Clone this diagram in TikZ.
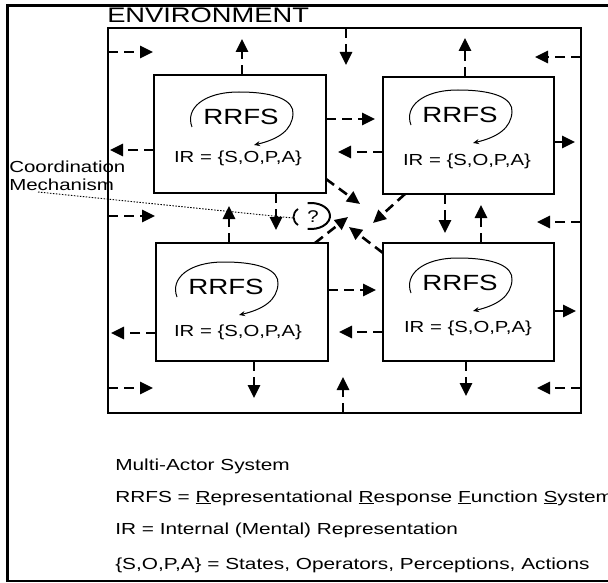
\documentclass[tikz,border=0pt]{standalone}
\usepackage{fontspec}
\setmainfont{Liberation Sans}
\usetikzlibrary{arrows.meta,calc}
\begin{document}
\begin{tikzpicture}[x=1pt,y=-1pt,
  box/.style={draw, line width=1.2pt, anchor=north west, inner sep=0pt, outer sep=0pt},
  envbox/.style={draw, line width=1.3pt, anchor=north west, inner sep=0pt, outer sep=0pt},
  dar/.style={draw, line width=2.6pt, dash pattern=on 10pt off 6pt, -{Triangle[length=13pt,width=12pt]}},
  lbl/.style={inner sep=0pt, anchor=base west, xscale=1.28, font=\fontsize{16}{16}\selectfont},
  leg/.style={lbl, xscale=1.30/1.28},
  rr/.style={inner sep=0pt, xscale=1.26, font=\fontsize{22}{22}\selectfont},
  ir/.style={inner sep=0pt, anchor=base, xscale=1.27, font=\fontsize{16}{16}\selectfont},
  rloop/.pic={\draw[line width=1pt,-{Stealth[length=6pt,width=5pt]}] (-49,10) .. controls (-56,-8) and (-38,-25) .. (-2,-25) .. controls (36,-25) and (53,-16) .. (52,-3) .. controls (51,13) and (38,22) .. (13,28);}
]
\useasboundingbox (0,0) rectangle (608,583);
% page frame
\draw[line width=3pt] (608,5.5) -- (7.5,5.5) -- (7.5,582);
\draw[line width=2pt] (6,580.5) -- (608,580.5);

% environment
\node[envbox, minimum width=473pt, minimum height=385pt] (env) at (108,28) {};
\node[inner sep=0pt, anchor=base west, xscale=1.3, font=\fontsize{21}{21}\selectfont] (envl) at (107,23) {ENVIRONMENT};

% actor boxes
\node[box, minimum width=172pt, minimum height=118pt] (tl) at (154,75) {};
\node[box, minimum width=171pt, minimum height=117pt] (tr) at (383,77) {};
\node[box, minimum width=172pt, minimum height=118pt] (bl) at (156,243) {};
\node[box, minimum width=171pt, minimum height=118pt] (br) at (383,243) {};

% texts in boxes
\node[rr] (rtl) at (241,117) {RRFS};
\node[rr] (rtr) at (460,115) {RRFS};
\node[rr] (rbl) at (226,287) {RRFS};
\node[rr] (rbr) at (460,283) {RRFS};
\pic at (rtl) {rloop};
\pic at (rtr) {rloop};
\pic at (rbl) {rloop};
\pic at (rbr) {rloop};
\node[ir] (itl) at (238,163) {IR = \{S,O,P,A\}};
\node[ir] (itr) at (467,166) {IR = \{S,O,P,A\}};
\node[ir] (ibl) at (238,336) {IR = \{S,O,P,A\}};
\node[ir] (ibr) at (468,332) {IR = \{S,O,P,A\}};

% arrow tips
\coordinate (a1) at (153,52);
\coordinate (a2) at (242,39);
\coordinate (a3) at (346,65);
\coordinate (a4) at (375,119);
\coordinate (a5) at (338,152);
\coordinate (a6) at (110,150);
\coordinate (a7) at (155,216);
\coordinate (a8) at (229,206);
\coordinate (a9) at (276,230);
\coordinate (a10) at (360,204);
\coordinate (a11) at (373,223);
\coordinate (a12) at (348,217);
\coordinate (a13) at (349,227);
\coordinate (a14) at (445,233);
\coordinate (a15) at (481,205);
\coordinate (a16) at (537,222);
\coordinate (a17) at (376,290);
\coordinate (a18) at (339,332);
\coordinate (a19) at (576,311);
\coordinate (a20) at (537,388);
\coordinate (a21) at (466,396);
\coordinate (a22) at (343,377);
\coordinate (a23) at (254,398);
\coordinate (a24) at (153,388);
\coordinate (a25) at (111,333);
\coordinate (a26) at (465,38);
\coordinate (a27) at (535,57);
\coordinate (a28) at (575,142);

\draw[dar] (env.west |- a1) -- (a1);
\draw[dar] (a2 |- tl.north) -- (a2);
\draw[dar] (a3 |- env.north) -- (a3);
\draw[dar] (tl.east |- a4) -- (a4);
\draw[dar] (tr.west |- a5) -- (a5);
\draw[dar] (tl.west |- a6) -- (a6);
\draw[dar] (env.west |- a7) -- (a7);
\draw[dar] (a8 |- bl.north) -- (a8);
\draw[dar] (a9 |- tl.south) -- (a9);
\draw[dar] ($(tl.south east)+(0,-14)$) -- (a10);
\draw[dar] ($(tr.south west)+(22,0)$) -- (a11);
\draw[dar] ($(bl.north east)+(-13,0)$) -- (a12);
\draw[dar] ($(br.north west)+(0,10)$) -- (a13);
\draw[dar] (a14 |- tr.south) -- (a14);
\draw[dar] (a15 |- br.north) -- (a15);
\draw[dar] (env.east |- a16) -- (a16);
\draw[dar] (bl.east |- a17) -- (a17);
\draw[dar] (br.west |- a18) -- (a18);
\draw[dar] (br.east |- a19) -- (a19);
\draw[dar] (env.east |- a20) -- (a20);
\draw[dar] (a21 |- br.south) -- (a21);
\draw[dar] (a22 |- env.south) -- (a22);
\draw[dar] (a23 |- bl.south) -- (a23);
\draw[dar] (env.west |- a24) -- (a24);
\draw[dar] (bl.west |- a25) -- (a25);
\draw[dar] (a26 |- tr.north) -- (a26);
\draw[dar] (env.east |- a27) -- (a27);
\draw[dar] (tr.east |- a28) -- (a28);

% coordination mechanism
\coordinate (par) at (293,218);
\draw[line width=1.8pt] (298,209) .. controls (292,213) and (292,221) .. (298,225);
\draw[line width=2pt] (307.7,203.2) arc[start angle=-100, end angle=100, x radius=19, y radius=13];
\node[inner sep=0pt, xscale=1.2, font=\fontsize{17}{17}\selectfont] (q) at (313,217) {?};
\node[lbl] (coord) at (9,172) {Coordination};
\node[lbl] (mech) at (9,190) {Mechanism};
\draw[line width=0.9pt, dash pattern=on 1.5pt off 1.5pt] ($(mech.base west)+(29,2)$) -- (par);

% legend
\node[inner sep=0pt, anchor=base west, xscale=1.30, font=\fontsize{16}{16}\selectfont] (l1) at (115,470) {Multi-Actor System};
\node[inner sep=0pt, anchor=base west, xscale=1.30, font=\fontsize{16}{16}\selectfont] (l2) at (115,502) {RRFS = \underline{R}epresentational \underline{R}esponse \underline{F}unction \underline{S}ystem};
\node[inner sep=0pt, anchor=base west, xscale=1.30, font=\fontsize{16}{16}\selectfont] (l3) at (115,534) {IR = Internal (Mental) Representation};
\node[inner sep=0pt, anchor=base west, xscale=1.30, font=\fontsize{16}{16}\selectfont] (l4) at (115,569) {\{S,O,P,A\} = States, Operators, Perceptions, Actions};
\end{tikzpicture}
\end{document}
